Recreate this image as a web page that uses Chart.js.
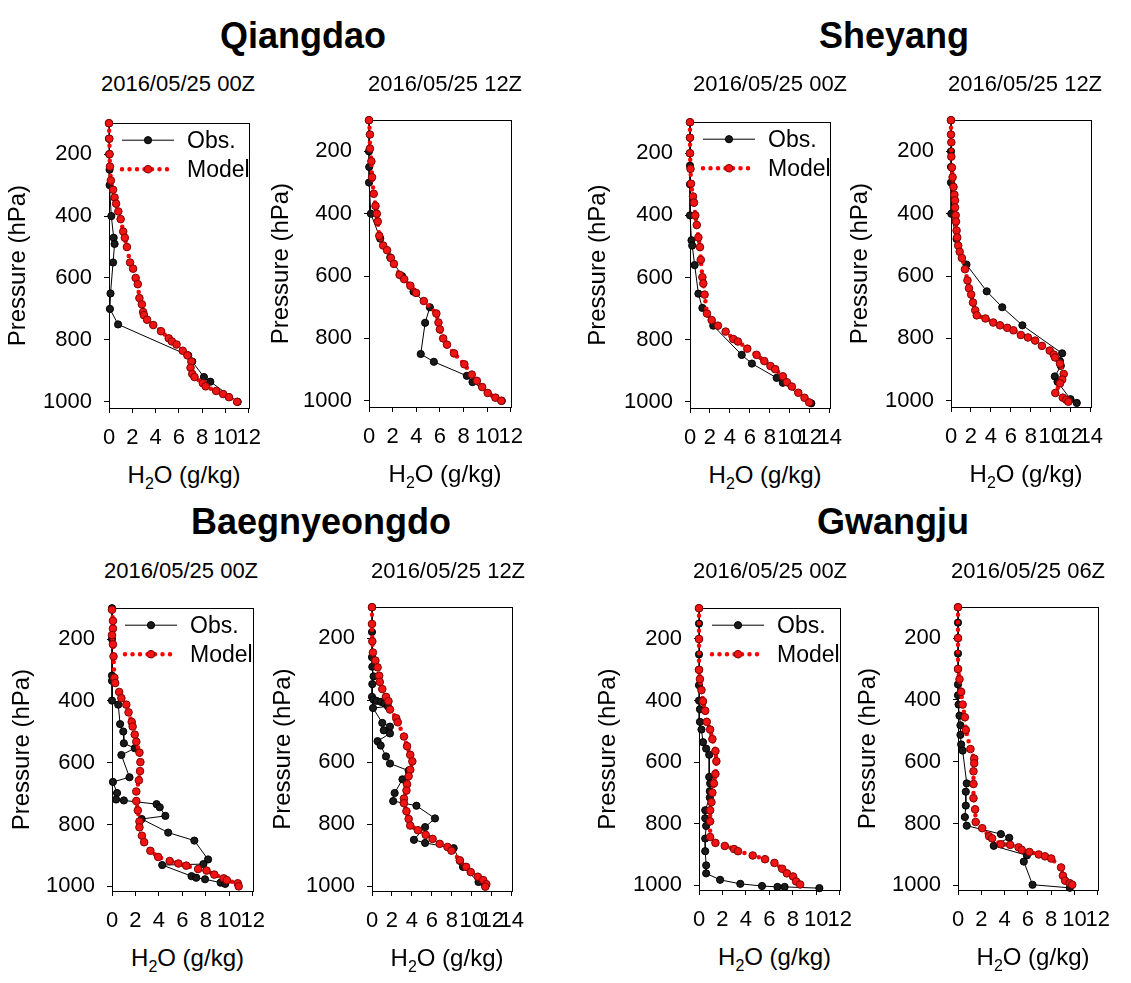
<!DOCTYPE html>
<html>
<head>
<meta charset="utf-8">
<script src="https://cdn.jsdelivr.net/npm/chart.js@4.4.0/dist/chart.umd.min.js"></script>
<style>
  html, body { margin: 0; padding: 0; background: #fff; }
  body { width: 1131px; height: 983px; position: relative; overflow: hidden;
         font-family: "Liberation Sans", Arial, sans-serif; color: #000; }
  canvas { position: absolute; }
  .lbl { position: absolute; white-space: nowrap; transform: translate(-50%, -50%); line-height: 1; }
  .station { font-weight: bold; font-size: 36px; }
  .date { font-size: 22px; }
  .xt { font-size: 24px; }
  .xt sub { font-size: 16px; vertical-align: -6px; line-height: 0; }
</style>
</head>
<body>
<script>
// ---- tick labels ----
const pressureTicks = [200, 400, 600, 800, 1000];
const h2oTicks12 = [0, 2, 4, 6, 8, 10, 12];
const h2oTicks14 = [0, 2, 4, 6, 8, 10, 12, 14];

// ---- Qiangdao 00Z ----
const qd00ObsP = [100, 150, 200, 250, 300, 400, 470, 490, 550, 650, 700, 750, 850, 870, 920, 935, 1000];
const qd00ObsX = [0, 0, 0.02, 0.05, 0.05, 0.2, 0.4, 0.48, 0.35, 0.13, 0.08, 0.78, 6.8, 7.15, 8.15, 8.7, 11.05];
const qd00ModP = [100, 150, 200, 240, 285, 315, 340, 360, 385, 410, 450, 470, 500, 550, 570, 600, 620, 665, 685, 710,
                  720, 735, 752, 772, 795, 805, 815, 835, 850, 870, 890, 910, 920, 940, 950, 965, 975, 985, 1000];
const qd00ModX = [0, 0.03, 0.05, 0.08, 0.16, 0.35, 0.48, 0.61, 0.8, 1.0, 1.22, 1.36, 1.54, 1.81, 2.07, 2.29, 2.47, 2.61, 2.82, 2.93,
                  3.0, 3.27, 3.8, 4.47, 5.13, 5.4, 5.8, 6.33, 6.73, 7.07, 7.0, 7.15, 7.34, 8.06, 8.3, 9.2, 9.8, 10.3, 11.0];

// ---- Qiangdao 12Z ----
const qd12ObsP = [100, 200, 250, 300, 400, 480, 540, 600, 650, 700, 750, 850, 875, 920, 940, 1000];
const qd12ObsX = [0, 0, 0.02, 0, 0.16, 0.95, 1.8, 2.8, 3.77, 5.15, 4.75, 4.38, 5.49, 8.28, 8.76, 11.24];
const qd12ModP = [100, 146, 191, 232, 283, 336, 375, 400, 425, 471, 502, 517, 542, 561, 596, 610, 631, 654, 680, 720,
                  749, 771, 800, 820, 848, 883, 916, 936, 956, 975, 990, 1000];
const qd12ModX = [0, 0.08, 0.08, 0.2, 0.26, 0.4, 0.55, 0.66, 0.74, 0.87, 1.2, 1.53, 1.85, 2.11, 2.59, 2.98, 3.5, 3.98, 4.64, 5.7,
                  5.88, 6.0, 6.28, 6.6, 7.2, 8.07, 8.7, 9.13, 9.58, 10.05, 10.7, 11.2];

// ---- Sheyang 00Z ----
const sy00ObsP = [100, 150, 200, 240, 300, 400, 480, 497, 560, 652, 698, 755, 849, 877, 923, 939, 1005];
const sy00ObsX = [0, 0, 0, 0, 0, 0, 0.15, 0.22, 0.47, 0.84, 1.24, 2.33, 5.18, 6.2, 8.68, 9.3, 12.15];
const sy00ModP = [100, 150, 200, 250, 298, 339, 359, 400, 431, 471, 502, 543, 599, 619, 655, 716, 737, 755, 774, 798,
                  806, 829, 849, 869, 885, 895, 918, 937, 951, 971, 987, 1002];
const sy00ModX = [0, 0, 0, 0.05, 0.1, 0.3, 0.4, 0.53, 0.68, 0.84, 1.0, 1.08, 1.24, 1.33, 1.46, 1.7, 2.17, 2.8, 3.57, 4.34,
                  4.8, 5.74, 6.67, 7.44, 8.06, 8.53, 9.3, 9.7, 10.2, 10.85, 11.47, 11.94];

// ---- Sheyang 12Z ----
const sy12ObsP = [100, 200, 250, 300, 400, 481, 563, 649, 700, 758, 848, 873, 888, 922, 939, 995, 1007];
const sy12ObsX = [0, 0, 0, 0, 0.03, 0.56, 1.55, 3.58, 5.13, 7.15, 11.13, 10.92, 11.0, 10.4, 10.67, 11.97, 12.6];
const sy12ModP = [100, 146, 171, 217, 252, 283, 314, 339, 357, 380, 405, 425, 454, 476, 502, 522, 542, 578, 614, 639,
                  659, 685, 710, 726, 736, 749, 758, 766, 774, 789, 797, 807, 824, 839, 852, 861, 881, 914, 932, 944,
                  975, 990, 997, 1003];
const sy12ModX = [0, 0, 0.03, 0.03, 0.09, 0.16, 0.25, 0.34, 0.4, 0.4, 0.47, 0.5, 0.56, 0.62, 0.72, 0.87, 1.09, 1.4, 1.65, 1.8,
                  2.02, 2.2, 2.43, 2.58, 3.45, 4.23, 4.91, 5.63, 6.25, 7.0, 7.71, 8.43, 9.11, 9.89, 10.3, 10.42, 10.92, 11.29, 11.14, 10.92,
                  10.45, 11.2, 11.54, 11.76];

// ---- Baegnyeongdo 00Z ----
const bn00ObsP = [100, 200, 318, 335, 399, 412, 475, 499, 537, 553, 575, 647, 662, 698, 719, 722, 734, 744, 772, 782,
                  826, 852, 913, 928, 931, 967, 972, 977, 988, 992];
const bn00ObsX = [0, 0, 0, 0, 0, 0.53, 0.69, 0.96, 1.01, 1.94, 0.8, 1.49, 0.08, 0.43, 0.35, 1.01, 3.8, 4.07, 4.55, 2.53,
                  4.79, 7.02, 8.19, 7.79, 4.28, 6.78, 7.18, 7.93, 9.26, 9.65];
const bn00ModP = [105, 141, 166, 187, 217, 256, 325, 342, 371, 391, 412, 437, 468, 483, 509, 532, 567, 598, 627, 657,
                  693, 724, 754, 790, 809, 836, 857, 885, 905, 918, 926, 933, 944, 949, 962, 974, 980, 990, 1000];
const bn00ModX = [0, 0.08, 0.08, 0, 0.08, 0.13, 0.2, 0.27, 0.61, 0.8, 1.22, 1.41, 1.68, 1.76, 1.94, 2.07, 2.34, 2.42, 2.39, 2.29,
                  2.07, 2.07, 2.2, 2.34, 2.34, 2.55, 2.74, 3.27, 3.94, 4.92, 5.66, 6.33, 7.34, 8.06, 8.72, 9.52, 9.79, 10.72, 10.8];

// ---- Baegnyeongdo 12Z ----
const bn12ObsP = [100, 180, 261, 292, 323, 348, 389, 398, 402, 405, 410, 420, 425, 473, 485, 497, 507, 532, 546, 581,
                  604, 627, 655, 699, 725, 740, 781, 809, 850, 860, 877, 918, 937, 986, 995];
const bn12ObsX = [0, 0, 0, 0.03, 0.16, 0.03, 0, 0.15, 0.45, 0.9, 1.25, 1.6, 0.1, 1.03, 1.8, 1.18, 1.8, 0.56, 0.87, 1.4,
                  1.8, 3.67, 3.05, 2.27, 2.12, 4.45, 6.31, 5.32, 4.2, 5.32, 8.18, 8.8, 9.11, 10.67, 11.29];
const bn12ModP = [100, 154, 210, 246, 272, 294, 321, 341, 364, 389, 403, 430, 458, 471, 517, 548, 576, 597, 624, 645,
                  671, 691, 717, 732, 758, 783, 804, 819, 834, 847, 863, 873, 885, 916, 937, 954, 969, 980, 993, 1001];
const bn12ModX = [0, 0, 0.03, 0.09, 0.34, 0.56, 0.72, 0.78, 1.03, 1.4, 1.65, 1.8, 2.43, 2.58, 3.2, 3.51, 3.83, 4.04, 3.83, 3.67,
                  3.51, 3.45, 3.2, 3.2, 3.45, 3.67, 3.83, 4.6, 5.38, 6.07, 6.78, 7.56, 7.96, 8.8, 9.42, 9.89, 10.6, 11.14, 11.45, 11.35];

// ---- Gwangju 00Z ----
const gj00ObsP = [100, 150, 200, 250, 300, 350, 400, 428, 469, 494, 535, 556, 576, 648, 669, 694, 715, 756, 782, 807,
                  848, 889, 935, 961, 982, 995, 1002, 1005, 1005, 1009];
const gj00ObsX = [0, 0, 0, 0, 0, 0, 0, 0.08, 0.08, 0.21, 0.34, 0.61, 0.87, 0.87, 0.95, 0.92, 0.92, 0.53, 0.53, 0.61,
                  0.53, 0.53, 0.61, 0.61, 1.8, 3.52, 5.37, 6.69, 7.3, 10.26];
const gj00ModP = [100, 200, 300, 330, 366, 402, 433, 469, 494, 525, 564, 597, 638, 669, 699, 730, 756, 792, 843, 862,
                  872, 882, 889, 903, 915, 927, 946, 961, 971, 987, 997];
const gj00ModX = [0, 0, 0, 0.08, 0.21, 0.34, 0.53, 0.66, 0.95, 1.14, 1.4, 1.48, 1.4, 1.27, 1.14, 1.06, 0.95, 0.95, 0.95, 1.4,
                  2.2, 2.99, 3.33, 4.58, 5.63, 6.43, 7.09, 7.49, 8.02, 8.28, 8.62];

// ---- Gwangju 06Z ----
const gj06ObsP = [100, 150, 200, 250, 300, 350, 385, 415, 451, 482, 513, 544, 564, 670, 697, 742, 779, 807, 834, 846,
                  872, 903, 923, 998, 1008];
const gj06ObsX = [0, 0, 0, 0, 0, 0, 0, 0.05, 0.13, 0.21, 0.21, 0.27, 0.4, 0.75, 0.67, 0.67, 0.59, 0.75, 3.68, 4.4,
                  3.07, 5.92, 5.65, 6.4, 9.6];
const gj06ModP = [100, 200, 300, 333, 374, 415, 456, 497, 559, 590, 605, 631, 672, 718, 754, 795, 815, 841, 848, 867,
                  869, 877, 885, 892, 900, 906, 913, 942, 969, 985, 993, 998];
const gj06ModX = [0, 0, 0, 0.13, 0.27, 0.4, 0.59, 0.67, 1.07, 1.39, 1.39, 1.33, 1.33, 1.33, 1.47, 1.52, 2.08, 2.67, 2.93, 3.68,
                  4.48, 5.2, 5.47, 6.13, 6.93, 7.47, 8.0, 8.85, 9.01, 9.2, 9.6, 9.81];

// ---- text ----
const stations = [
    { text: 'Qiangdao', x: 303, y: 36 },
    { text: 'Sheyang', x: 894, y: 36 },
    { text: 'Baegnyeongdo', x: 321, y: 522 },
    { text: 'Gwangju', x: 893, y: 522 }
];

// panel placement on the page
const panels = [
    { left: 109, top: 108, w: 150, h: 300, yMax: 1020, xTicks: h2oTicks12, ytX: 18, date: '2016/05/25 00Z', dateX: 178, dateY: 84,
      canvasLeft: 0, legend: true, obsP: qd00ObsP, obsX: qd00ObsX, modP: qd00ModP, modX: qd00ModX },
    { left: 369, top: 105, w: 152, h: 302, yMax: 1020, xTicks: h2oTicks12, ytX: 281, date: '2016/05/25 12Z', dateX: 445, dateY: 84,
      canvasLeft: 262, white: true, obsP: qd12ObsP, obsX: qd12ObsX, modP: qd12ModP, modX: qd12ModX },
    { left: 690, top: 107, w: 150, h: 301, yMax: 1020, xTicks: h2oTicks14, ytX: 598, date: '2016/05/25 00Z', dateX: 770, dateY: 84,
      canvasLeft: 580, legend: true, obsP: sy00ObsP, obsX: sy00ObsX, modP: sy00ModP, modX: sy00ModX },
    { left: 951, top: 105, w: 150, h: 302, yMax: 1020, xTicks: h2oTicks14, ytX: 860, date: '2016/05/25 12Z', dateX: 1025, dateY: 84,
      canvasLeft: 843, white: true, obsP: sy12ObsP, obsX: sy12ObsX, modP: sy12ModP, modX: sy12ModX },
    { left: 112, top: 593, w: 151, h: 298, yMax: 1015, xTicks: h2oTicks12, ytX: 22, date: '2016/05/25 00Z', dateX: 181, dateY: 571,
      canvasLeft: 2, legend: true, obsP: bn00ObsP, obsX: bn00ObsX, modP: bn00ModP, modX: bn00ModX },
    { left: 372, top: 592, w: 150, h: 299, yMax: 1015, xTicks: h2oTicks14, ytX: 283, date: '2016/05/25 12Z', dateX: 448, dateY: 571,
      canvasLeft: 266, white: true, obsP: bn12ObsP, obsX: bn12ObsX, modP: bn12ModP, modX: bn12ModX },
    { left: 699, top: 593, w: 151, h: 297, yMax: 1015, xTicks: h2oTicks12, ytX: 608, date: '2016/05/25 00Z', dateX: 770, dateY: 571,
      canvasLeft: 589, legend: true, obsP: gj00ObsP, obsX: gj00ObsX, modP: gj00ModP, modX: gj00ModX },
    { left: 958, top: 592, w: 150, h: 298, yMax: 1015, xTicks: h2oTicks12, ytX: 868, date: '2016/05/25 06Z', dateX: 1028, dateY: 571,
      canvasLeft: 853, white: true, obsP: gj06ObsP, obsX: gj06ObsX, modP: gj06ModP, modX: gj06ModX }
];

const FONT = '"Liberation Sans", Arial, sans-serif';
Chart.defaults.font.family = FONT;
Chart.defaults.color = '#000';

// box around the plot area
const framePlugin = {
    id: 'frame',
    beforeDatasetsDraw(chart) {
        const a = chart.chartArea, ctx = chart.ctx;
        ctx.save();
        ctx.strokeStyle = '#000';
        ctx.lineWidth = 1;
        ctx.strokeRect(Math.round(a.left) + 0.5, Math.round(a.top) + 0.5,
                       Math.round(a.right - a.left), Math.round(a.bottom - a.top));
        ctx.restore();
    }
};

// legend inside the plot: line + marker + label
const profLegend = {
    id: 'profLegend',
    afterDatasetsDraw(chart, args, opts) {
        if (!opts.show) return;
        const a = chart.chartArea, ctx = chart.ctx;
        const rows = [chart.data.datasets[1], chart.data.datasets[0]];
        rows.forEach((ds, i) => {
            const y = a.top + 17 + i * 29;
            ctx.save();
            ctx.strokeStyle = ds.borderColor;
            ctx.lineWidth = ds.borderWidth;
            ctx.setLineDash(ds.borderDash || []);
            ctx.lineCap = ds.borderCapStyle || 'butt';
            ctx.beginPath();
            ctx.moveTo(a.left + 13, y);
            ctx.lineTo(a.left + 65, y);
            ctx.stroke();
            ctx.setLineDash([]);
            ctx.beginPath();
            ctx.arc(a.left + 39, y, ds.pointRadius, 0, Math.PI * 2);
            ctx.fillStyle = ds.pointBackgroundColor;
            ctx.fill();
            ctx.lineWidth = 1;
            ctx.strokeStyle = ds.pointBorderColor;
            ctx.stroke();
            ctx.fillStyle = '#000';
            ctx.font = '23px ' + FONT;
            ctx.textBaseline = 'middle';
            ctx.fillText(ds.label, a.left + 78, y + 1);
            ctx.restore();
        });
    }
};

function toPoints(xs, ps) {
    return xs.map((x, i) => ({ x: x, y: ps[i] }));
}

function addLabel(html, cls, x, y) {
    const d = document.createElement('div');
    d.className = 'lbl ' + cls;
    d.innerHTML = html;
    d.style.left = x + 'px';
    d.style.top = y + 'px';
    document.body.appendChild(d);
}

function makePanel(p) {
    const axisW = p.left - p.canvasLeft;
    const cv = document.createElement('canvas');
    cv.width = axisW + p.w + 14;
    cv.height = 10 + p.h + 50;
    cv.style.left = p.canvasLeft + 'px';
    cv.style.top = (p.top - 10) + 'px';
    if (p.white) cv.style.background = '#fff';
    document.body.appendChild(cv);

    const titlePad = p.ytX - p.canvasLeft - 24 * 1.2 / 2;
    const tickGrid = { drawOnChartArea: false, drawTicks: true, tickLength: 5, color: '#000', lineWidth: 1 };

    new Chart(cv, {
        type: 'scatter',
        data: {
            datasets: [
                {
                    label: 'Model',
                    data: toPoints(p.modX, p.modP),
                    showLine: true,
                    borderColor: '#ff0000',
                    borderWidth: 4.5,
                    borderDash: [0, 7.5],
                    borderCapStyle: 'round',
                    pointRadius: 3.8,
                    pointBackgroundColor: '#f01414',
                    pointBorderColor: '#800000',
                    pointBorderWidth: 1,
                    clip: false,
                    order: 0
                },
                {
                    label: 'Obs.',
                    data: toPoints(p.obsX, p.obsP),
                    showLine: true,
                    borderColor: '#000',
                    borderWidth: 1,
                    pointRadius: 3.6,
                    pointBackgroundColor: '#1a1a1a',
                    pointBorderColor: '#000',
                    pointBorderWidth: 1,
                    clip: false,
                    order: 1
                }
            ]
        },
        options: {
            responsive: false,
            animation: false,
            layout: { padding: { top: 10, right: 14, left: 0, bottom: 0 } },
            plugins: {
                legend: { display: false },
                tooltip: { enabled: false },
                profLegend: { show: !!p.legend }
            },
            scales: {
                x: {
                    type: 'linear',
                    min: 0,
                    max: p.xTicks[p.xTicks.length - 1],
                    afterBuildTicks: s => { s.ticks = p.xTicks.map(v => ({ value: v })); },
                    afterFit: s => { s.height = 50; },
                    grid: tickGrid,
                    border: { color: '#000', width: 1 },
                    ticks: { autoSkip: false, maxRotation: 0, minRotation: 0, padding: 12, color: '#000',
                             font: { size: 22 }, callback: v => String(v) }
                },
                y: {
                    type: 'linear',
                    reverse: true,
                    min: 100,
                    max: p.yMax,
                    afterBuildTicks: s => { s.ticks = pressureTicks.map(v => ({ value: v })); },
                    afterFit: s => { s.width = axisW; },
                    grid: tickGrid,
                    border: { color: '#000', width: 1 },
                    ticks: { padding: 12, color: '#000', font: { size: 22 }, callback: v => String(v) },
                    title: {
                        display: true,
                        text: 'Pressure (hPa)',
                        color: '#000',
                        font: { size: 24 },
                        padding: { top: titlePad, bottom: 0 }
                    }
                }
            }
        },
        plugins: [framePlugin, profLegend]
    });
}

panels.forEach(makePanel);

// text on top of the canvases
stations.forEach(s => addLabel(s.text, 'station', s.x, s.y));
panels.forEach(p => {
    addLabel(p.date, 'date', p.dateX, p.dateY);
    addLabel('H<sub>2</sub>O (g/kg)', 'xt', p.left + p.w / 2, p.top + p.h + 67);
});
</script>
</body>
</html>
